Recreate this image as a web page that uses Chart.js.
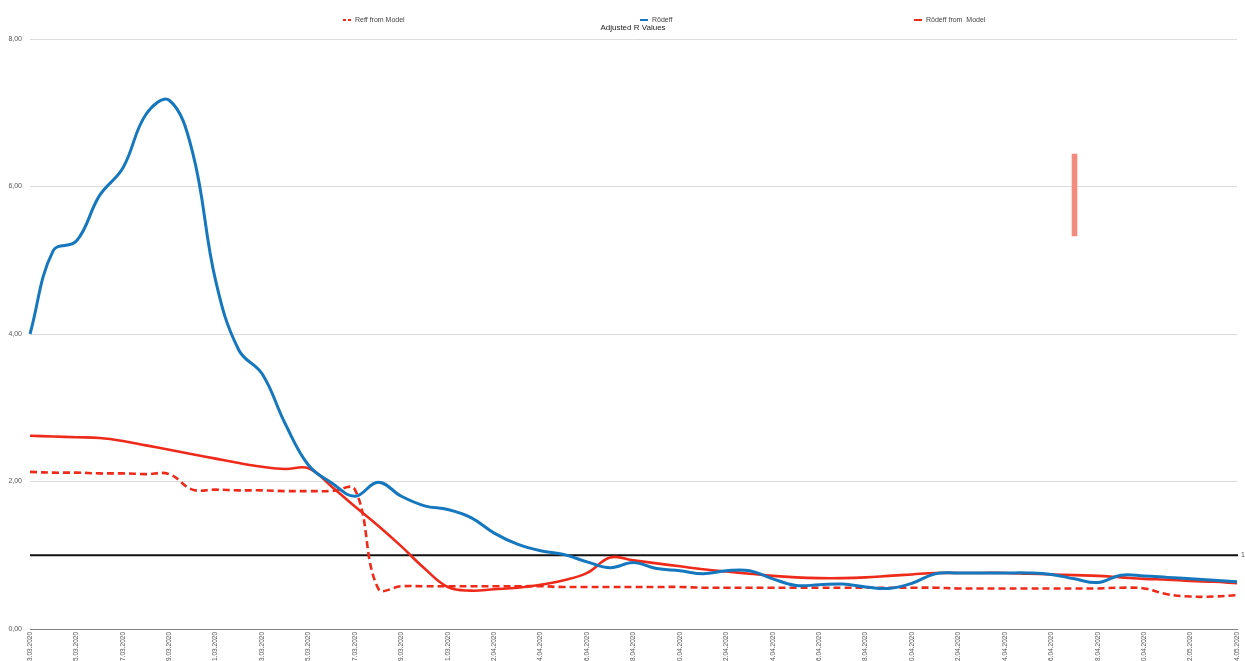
<!DOCTYPE html>
<html>
<head>
<meta charset="utf-8">
<title>Adjusted R Values</title>
<script src="https://cdn.jsdelivr.net/npm/chart.js@4.4.1/dist/chart.umd.min.js"></script>
<style>
  html, body { margin: 0; padding: 0; background: #fff; overflow: hidden; }
  #wrap { position: relative; width: 1245px; height: 700px; }
</style>
</head>
<body>
<div id="wrap"><canvas id="chart"></canvas></div>
<script>
'use strict';

// Daily dates, every other one gets a tick label
const dates = [
  '13.03.2020','14.03.2020','15.03.2020','16.03.2020','17.03.2020','18.03.2020','19.03.2020',
  '20.03.2020','21.03.2020','22.03.2020','23.03.2020','24.03.2020','25.03.2020','26.03.2020',
  '27.03.2020','28.03.2020','29.03.2020','30.03.2020','31.03.2020','01.04.2020','02.04.2020',
  '03.04.2020','04.04.2020','05.04.2020','06.04.2020','07.04.2020','08.04.2020','09.04.2020',
  '10.04.2020','11.04.2020','12.04.2020','13.04.2020','14.04.2020','15.04.2020','16.04.2020',
  '17.04.2020','18.04.2020','19.04.2020','20.04.2020','21.04.2020','22.04.2020','23.04.2020',
  '24.04.2020','25.04.2020','26.04.2020','27.04.2020','28.04.2020','29.04.2020','30.04.2020',
  '01.05.2020','02.05.2020','03.05.2020','04.05.2020',
];

const rdeff = [
  4.00, 5.13, 5.26, 5.88, 6.25, 6.98, 7.17, 6.47, 4.72, 3.78, 3.46, 2.78, 2.22,
  1.98, 1.80, 1.99, 1.80, 1.67, 1.62, 1.51, 1.30, 1.15, 1.06, 1.01, 0.91, 0.83,
  0.90, 0.82, 0.79, 0.75, 0.79, 0.79, 0.68, 0.59, 0.60, 0.61, 0.57, 0.55, 0.62,
  0.75, 0.76, 0.76, 0.76, 0.76, 0.74, 0.68, 0.63, 0.73, 0.72, 0.70, 0.68, 0.66, 0.64,
];

const rdeffModel = [
  2.62, 2.61, 2.60, 2.59, 2.55, 2.49, 2.43, 2.37, 2.31, 2.25, 2.20, 2.17, 2.18,
  1.93, 1.66, 1.40, 1.12, 0.82, 0.57, 0.52, 0.54, 0.56, 0.60, 0.66, 0.76, 0.97,
  0.93, 0.89, 0.85, 0.81, 0.78, 0.75, 0.72, 0.70, 0.69, 0.69, 0.70, 0.72, 0.74,
  0.76, 0.76, 0.76, 0.76, 0.75, 0.74, 0.73, 0.72, 0.70, 0.68, 0.67, 0.65, 0.64, 0.62,
];

const reffModel = [
  2.13, 2.12, 2.12, 2.11, 2.11, 2.10, 2.10, 1.89, 1.89, 1.88, 1.88, 1.87, 1.87,
  1.87, 1.89, 0.55, 0.58, 0.58, 0.58, 0.58, 0.58, 0.58, 0.58, 0.57, 0.57, 0.57,
  0.57, 0.57, 0.57, 0.56, 0.56, 0.56, 0.56, 0.56, 0.56, 0.56, 0.56, 0.56, 0.56,
  0.56, 0.55, 0.55, 0.55, 0.55, 0.55, 0.55, 0.55, 0.56, 0.55, 0.47, 0.44, 0.44, 0.46,
];

const refLevel = 1;
const markerDate = '27.04.2020';
const markerRange = [5.33, 6.44];

const C = {
  blue:  '#1577bd',
  red:   '#ee2a1a',
  pink:  '#f08b7e',
  grid:  '#dcdcdc',
  axis:  '#808080',
  text:  '#555',
  font:  '"Liberation Sans", Arial, sans-serif',
};

// legend + title + reference line at R = 1
const overlay = {
  id: 'overlay',
  beforeDatasetsDraw(chart) {
    const { ctx, chartArea: a, scales: { y } } = chart;
    const py = y.getPixelForValue(refLevel);
    ctx.save();
    ctx.strokeStyle = '#111';
    ctx.lineWidth = 2;
    ctx.beginPath();
    ctx.moveTo(a.left, py);
    ctx.lineTo(a.right + 1, py);
    ctx.stroke();
    ctx.fillStyle = C.text;
    ctx.font = '7px ' + C.font;
    ctx.textBaseline = 'middle';
    ctx.fillText(String(refLevel), a.right + 4, py);
    ctx.restore();
  },
  afterDraw(chart) {
    const { ctx } = chart;
    const items = [
      { ds: 2, x: 343 },
      { ds: 0, x: 640 },
      { ds: 1, x: 914 },
    ];
    ctx.save();
    ctx.font = '7px ' + C.font;
    ctx.textBaseline = 'middle';
    items.forEach(it => {
      const d = chart.data.datasets[it.ds];
      ctx.strokeStyle = d.borderColor;
      ctx.lineWidth = 2;
      ctx.setLineDash(d.borderDash ? [3, 2] : []);
      ctx.beginPath();
      ctx.moveTo(it.x, 20);
      ctx.lineTo(it.x + 8, 20);
      ctx.stroke();
      ctx.fillStyle = '#444';
      ctx.fillText(d.label, it.x + 12, 20);
    });
    ctx.setLineDash([]);
    ctx.font = '8px ' + C.font;
    ctx.textAlign = 'center';
    ctx.fillStyle = '#222';
    ctx.fillText('Adjusted R Values', 633, 28);
    ctx.restore();
  },
};

new Chart(document.getElementById('chart'), {
  type: 'line',
  data: {
    labels: dates,
    datasets: [
      {
        label: 'Rödeff',
        data: rdeff,
        borderColor: C.blue,
        borderWidth: 3,
        tension: 0.4,
        pointRadius: 0,
      },
      {
        label: 'Rödeff from  Model',
        data: rdeffModel,
        borderColor: C.red,
        borderWidth: 2.6,
        tension: 0.4,
        pointRadius: 0,
      },
      {
        label: 'Reff from Model',
        data: reffModel,
        borderColor: C.red,
        borderWidth: 2.6,
        borderDash: [7, 4],
        tension: 0.4,
        pointRadius: 0,
      },
      {
        type: 'bar',
        label: 'marker',
        data: [{ x: markerDate, y: markerRange }],
        backgroundColor: C.pink,
        barThickness: 5,
      },
    ],
  },
  options: {
    responsive: true,
    maintainAspectRatio: false,
    animation: false,
    layout: { padding: { top: 39, right: 8, left: 0, bottom: 0 } },
    plugins: {
      legend: { display: false },
      title: { display: false },
      tooltip: { enabled: false },
    },
    scales: {
      x: {
        offset: false,
        grid: { display: false },
        border: { color: C.axis, width: 1 },
        ticks: {
          color: C.text,
          font: { family: C.font, size: 6.5 },
          minRotation: 90,
          maxRotation: 90,
          autoSkip: false,
          padding: -5,
          callback: (v, i) => (i % 2 === 0 ? dates[i] : ''),
        },
        afterFit(scale) {
          scale.height = 71;
          scale.paddingLeft = 0;
          scale.paddingRight = 0;
        },
      },
      y: {
        min: 0,
        max: 8,
        border: { display: false },
        grid: { color: C.grid, drawTicks: false },
        ticks: {
          stepSize: 2,
          color: C.text,
          font: { family: C.font, size: 7 },
          padding: 8,
          callback: v => v.toFixed(2).replace('.', ','),
        },
        afterFit(scale) { scale.width = 30; },
      },
    },
  },
  plugins: [overlay],
});
</script>
</body>
</html>
